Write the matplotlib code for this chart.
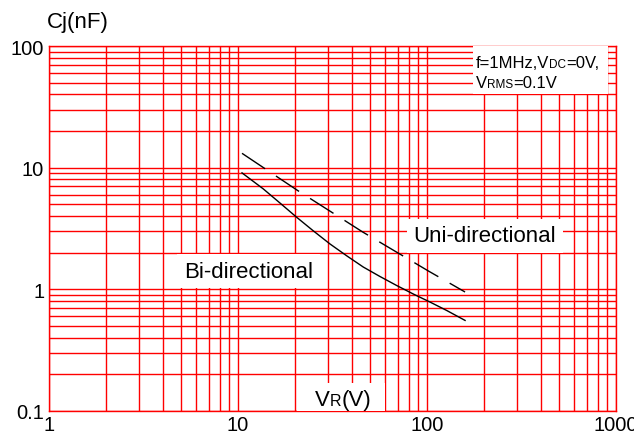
import numpy as np
import matplotlib
matplotlib.use("Agg")
import matplotlib.pyplot as plt
from matplotlib.ticker import FixedLocator, FixedFormatter, LogLocator, NullFormatter
from matplotlib.patches import Rectangle

plt.rcParams['font.family'] = ['Liberation Sans', 'DejaVu Sans']

# values
bi_v = [10.5, 13.6, 16.7, 20.4, 25.0, 30.7, 37.6, 46.0, 56.4, 69.2, 84.7, 103.7, 127, 159]
bi_c = [9.04, 6.68, 5.10, 3.91, 3.02, 2.35, 1.88, 1.52, 1.27, 1.07, 0.911, 0.783, 0.668, 0.553]
uni_v = [10.5, 20.7, 45.7, 102.5, 159]
uni_c = [13.1, 6.47, 2.95, 1.40, 0.947]

x_ticks = [1, 10, 100, 1000]
x_labels = ["1", "10", "100", "1000"]
y_ticks = [0.1, 1, 10, 100]
y_labels = ["0.1", "1", "10", "100"]

fig = plt.figure(figsize=(6.34, 4.39), dpi=100)
ax = fig.add_axes([49/634, 27.3/439, 567/634, 364.7/439])
ax.set_xscale('log')
ax.set_yscale('log')
ax.set_xlim(1, 1000)
ax.set_ylim(0.1, 100)

ax.xaxis.set_major_locator(FixedLocator(x_ticks))
ax.xaxis.set_major_formatter(FixedFormatter(x_labels))
ax.yaxis.set_major_locator(FixedLocator(y_ticks))
ax.yaxis.set_major_formatter(FixedFormatter(y_labels))
ax.xaxis.set_minor_locator(LogLocator(base=10, subs=np.arange(2, 10)))
ax.yaxis.set_minor_locator(LogLocator(base=10, subs=np.arange(2, 10)))
ax.xaxis.set_minor_formatter(NullFormatter())
ax.yaxis.set_minor_formatter(NullFormatter())
ax.tick_params(which='both', length=0, labelsize=14.5, colors='black')
ax.tick_params(axis='x', pad=3)
ax.tick_params(axis='y', pad=3.5)

ax.set_axisbelow(True)
ax.grid(which='both', color='red', linewidth=1.0)
for s in ax.spines.values():
    s.set_color('red')
    s.set_linewidth(1.0)

ax.plot(bi_v, bi_c, color='black', linewidth=1.0)
ax.plot(uni_v, uni_c, color='black', linewidth=1.0, linestyle=(0, (20, 9.4)))

box = dict(boxstyle='square,pad=0.3', facecolor='white', edgecolor='none')
ax.text(0.238, 0.3674, "Bi-directional", transform=ax.transAxes, fontsize=16,
        va='baseline', ha='left', bbox=box, zorder=3)
ax.text(0.6425, 0.4645, "Uni-directional", transform=ax.transAxes, fontsize=16,
        va='baseline', ha='left', bbox=box, zorder=3)

# white boxes behind the condition note and the axis title
ax.add_patch(Rectangle((0.748, 0.868), 0.238, 0.132, transform=ax.transAxes,
                       facecolor='white', edgecolor='none', zorder=3))
ax.add_patch(Rectangle((0.437, 0.0), 0.155, 0.076, transform=ax.transAxes,
                       facecolor='white', edgecolor='none', zorder=3))


def mixed_text(x, y, pieces):
    renderer = fig.canvas.get_renderer()
    dx = 0
    for s, size in pieces:
        t = ax.annotate(s, xy=(x, y), xycoords='axes fraction', xytext=(dx, 0),
                        textcoords='offset pixels', fontsize=size, va='baseline',
                        ha='left', zorder=5)
        dx += t.get_window_extent(renderer).width


mixed_text(0.753, 0.9416, [("f=1MHz,V", 12), ("DC", 8.5), ("=0V,", 12)])
mixed_text(0.753, 0.8868, [("V", 12), ("RMS", 8.5), ("=0.1V", 12)])
mixed_text(0.469, 0.0165, [("V", 16), ("R", 11.5), ("(V)", 16)])

fig.text(47/634, 1 - 28/439, "Cj(nF)", fontsize=16, va='baseline', ha='left')

fig.savefig("out.png", dpi=100)
